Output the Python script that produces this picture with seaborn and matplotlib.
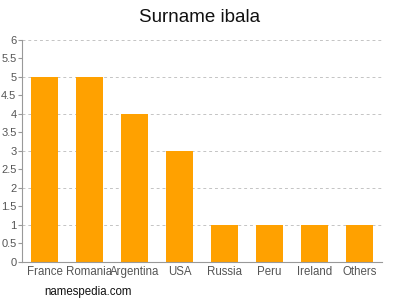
import matplotlib
matplotlib.use("Agg")
import matplotlib.pyplot as plt
import seaborn as sns
import pandas as pd

countries = ["France", "Romania", "Argentina", "USA", "Russia", "Peru", "Ireland", "Others"]
counts = [5, 5, 4, 3, 1, 1, 1, 1]
yticks = [0, 0.5, 1, 1.5, 2, 2.5, 3, 3.5, 4, 4.5, 5, 5.5, 6]
ytick_labels = ["0", "0.5", "1", "1.5", "2", "2.5", "3", "3.5", "4", "4.5", "5", "5.5", "6"]

df = pd.DataFrame({"country": countries, "count": counts})

sns.set_style("white")
plt.rcParams['font.family'] = ['Liberation Sans', 'DejaVu Sans']

fig = plt.figure(figsize=(4, 3), dpi=100)
ax = fig.add_axes([0.055, 0.127, 0.9, 0.74])

for v in [1, 2, 3, 4, 5, 6]:
    ax.axhline(v, color="#c4c4c4", linestyle=(0, (3, 3)), linewidth=0.7, zorder=0)

sns.barplot(data=df, x="country", y="count", color="#ffa100", saturation=1,
            width=0.62, ax=ax, zorder=2, linewidth=0)

ax.set_xlim(-0.5, 7.5)
ax.set_ylim(0, 6)
ax.set_yticks(yticks)
ax.set_yticklabels(ytick_labels)
ax.set_xlabel("")
ax.set_ylabel("")
ax.tick_params(axis="y", length=3, color="#999999", labelsize=8, labelcolor="#555555", pad=1, left=True)
ax.tick_params(axis="x", length=0, labelsize=8.3, labelcolor="#555555", pad=3)
for s in ["top", "right"]:
    ax.spines[s].set_visible(False)
ax.spines["left"].set_color("#999999")
ax.spines["bottom"].set_color("#999999")
ax.spines["left"].set_linewidth(0.8)
ax.spines["bottom"].set_linewidth(0.8)

fig.text(0.5, 0.94, "Surname ibala", ha="center", va="center", fontsize=13.5, color="#111111")
fig.text(0.11, 0.027, "namespedia.com", ha="left", va="center", fontsize=8.3, color="#111111")

fig.savefig("out.png", dpi=100)
